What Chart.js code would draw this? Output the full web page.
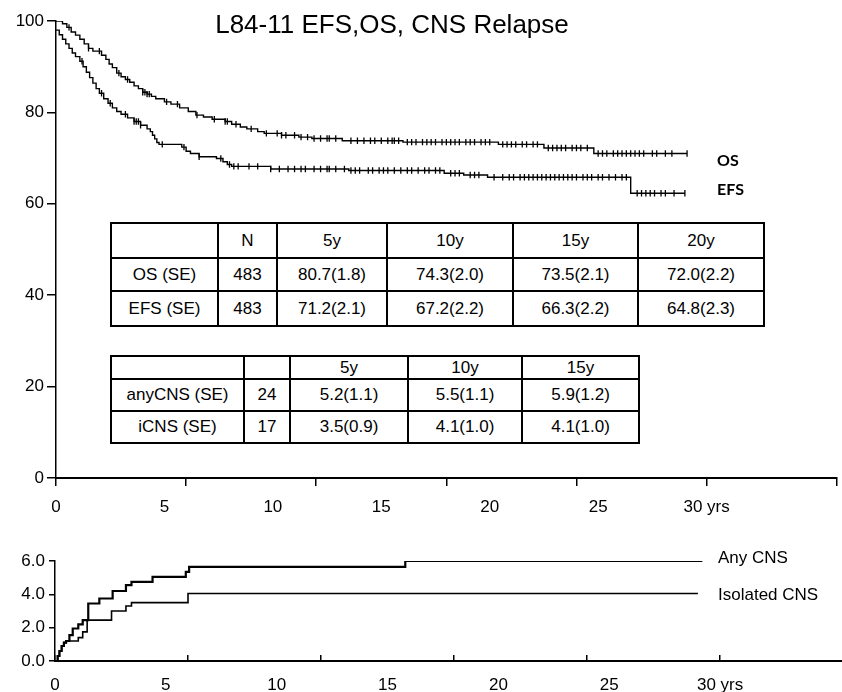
<!DOCTYPE html>
<html>
<head>
<meta charset="utf-8">
<script src="https://cdn.jsdelivr.net/npm/chart.js@4.4.1/dist/chart.umd.min.js"></script>
<style>
  body { margin: 0; background: #fff; }
  #wrap { position: relative; width: 842px; height: 692px; overflow: hidden;
          font-family: "Liberation Sans", Arial, sans-serif; color: #000; }
  canvas { position: absolute; left: 0; }
  #topChart { top: 0; }
  #bottomChart { top: 545px; }
  .title { position: absolute; left: 0; width: 784px; top: 11px; text-align: center;
           font-size: 26px; line-height: 26px; }
  .curveLabel { position: absolute; left: 717px; font-family: Lato, "Open Sans", sans-serif;
                font-size: 16px; line-height: 16px; font-weight: 700; }
  .cnsLabel { position: absolute; left: 718px; font-size: 17px; line-height: 17px; }
  table { position: absolute; border-collapse: collapse; table-layout: fixed;
          background: #fff; font-size: 17px; }
  td { border: 2px solid #000; text-align: center; padding: 0; white-space: nowrap; }
</style>
</head>
<body>
<div id="wrap">
  <canvas id="topChart" width="842" height="520"></canvas>
  <canvas id="bottomChart" width="842" height="147"></canvas>
  <div class="title">L84-11 EFS,OS, CNS Relapse</div>
  <div class="curveLabel" style="top:152px">OS</div>
  <div class="curveLabel" style="top:181px">EFS</div>
  <div class="cnsLabel" style="top:549px">Any CNS</div>
  <div class="cnsLabel" style="top:586px">Isolated CNS</div>
  <table id="survTable" style="left:110px; top:222px; width:653px"></table>
  <table id="cnsTable" style="left:110px; top:355px; width:528px"></table>
</div>
<script>
// Kaplan-Meier steps: [years, percent after the step]
const osSteps = [
  [0,100],[0.3,99.4],[0.5,98.6],[0.7,97.6],[0.9,96.9],[1.1,96.0],[1.3,95.0],[1.5,94.0],
  [1.7,93.4],[2.1,92.5],[2.3,91.6],[2.45,90.6],[2.6,89.8],[2.8,88.6],[3.0,87.8],[3.2,87.2],
  [3.4,86.6],[3.6,85.8],[3.8,85.2],[4.0,84.4],[4.2,84.0],[4.4,83.5],[4.6,83.0],[5.0,82.3],
  [5.3,81.8],[5.7,81.0],[6.1,80.2],[6.45,79.4],[6.8,79.0],[7.2,78.5],[7.8,78.0],[8.1,77.4],
  [8.5,76.8],[8.8,76.4],[9.3,75.8],[9.6,75.4],[10.4,75.0],[11.2,74.6],[11.8,74.3],[13.2,73.8],
  [16.0,73.5],[20.4,73.0],[22.5,72.2],[24.8,71.0],[29.1,71.0]
];
const efsSteps = [
  [0,98.0],[0.15,97.0],[0.3,96.0],[0.45,95.0],[0.6,94.0],[0.75,93.0],[0.9,92.2],[1.1,91.2],
  [1.25,90.0],[1.4,88.8],[1.55,87.6],[1.7,86.4],[1.85,85.2],[2.0,84.2],[2.2,83.0],[2.4,82.0],
  [2.6,81.0],[2.8,80.2],[3.0,79.6],[3.3,78.8],[3.6,78.0],[3.9,77.2],[4.2,76.4],[4.35,75.8],
  [4.45,75.0],[4.55,74.2],[4.65,73.4],[4.75,73.0],[5.8,72.4],[6.0,71.5],[6.2,71.0],[6.6,70.3],
  [7.4,69.9],[7.7,69.2],[7.9,68.6],[8.1,68.2],[9.9,67.6],[13.5,67.3],[17.9,66.7],[18.8,66.3],
  [19.9,65.8],[26.5,62.3],[29.0,62.3]
];
// censored observations (years), the small vertical ticks on the curves
const osCensor = [0.6,1.5,2.0,2.9,3.3,4.0,4.1,4.2,4.3,5.1,5.6,6.5,7.3,7.8,7.9,8.3,9.0,9.7,10.2,10.4,
  10.6,11.0,11.3,11.6,11.9,12.2,12.5,12.6,12.9,13.6,13.9,14.2,14.5,14.7,15.0,15.3,15.5,15.6,15.8,
  16.2,16.4,16.6,16.9,17.1,17.3,17.5,17.8,18.0,18.2,18.4,18.6,18.9,19.1,19.3,19.6,19.8,20.0,20.6,
  20.8,21.0,21.2,21.5,21.7,22.0,22.2,22.7,22.9,23.1,23.3,23.5,23.8,24.0,24.2,24.5,25.0,25.2,25.4,
  25.7,25.9,26.1,26.3,26.5,26.7,26.9,27.1,27.5,27.7,28.1,28.4,29.1];
const efsCensor = [1.2,2.1,2.5,3.2,3.6,3.7,3.8,3.9,4.9,5.9,6.6,7.6,8.0,8.2,8.4,8.9,9.3,9.9,10.3,10.7,
  11.0,11.3,11.5,11.9,12.2,12.5,12.6,12.9,13.3,13.6,13.8,14.0,14.4,14.6,14.9,15.1,15.3,15.6,15.9,
  16.2,16.4,16.7,17.0,17.2,17.5,17.7,18.2,18.4,18.6,19.1,19.3,19.5,20.2,20.6,20.9,21.1,21.4,21.6,
  21.8,22.0,22.2,22.4,22.6,22.8,23.0,23.2,23.4,23.6,23.8,24.0,24.3,24.5,24.7,25.0,25.2,25.5,25.8,
  26.1,26.3,26.8,27.0,27.2,27.4,27.6,27.9,28.1,28.5,29.0];

// cumulative incidence of CNS relapse, percent
const anyCnsSteps = [
  [0,0],[0.12,0.3],[0.2,0.6],[0.3,0.9],[0.4,1.1],[0.5,1.2],[0.65,1.55],[0.8,1.95],[1.05,2.2],
  [1.25,2.45],[1.5,3.45],[2.0,3.75],[2.6,4.2],[3.2,4.55],[3.45,4.75],[4.4,5.05],[5.9,5.35],
  [6.05,5.65],[15.8,6.0],[29.2,6.0]
];
const isoCnsSteps = [
  [0,0],[0.12,0.3],[0.2,0.6],[0.3,0.9],[0.4,1.1],[0.5,1.2],[1.05,1.4],[1.25,1.75],[1.45,2.45],
  [2.55,3.0],[3.2,3.3],[3.45,3.5],[6.0,4.05],[29.0,4.05]
];

const xTickMarks = [0, 6, 12, 18, 24, 30, 36];
const xLabelTicks = [0, 5, 10, 15, 20, 25, 30];
const survTicks = [0, 20, 40, 60, 80, 100];
const cnsTicks = [0, 2, 4, 6];

const survHeader = ['', 'N', '5y', '10y', '15y', '20y'];
const survRows = [
  ['OS (SE)', '483', '80.7(1.8)', '74.3(2.0)', '73.5(2.1)', '72.0(2.2)'],
  ['EFS (SE)', '483', '71.2(2.1)', '67.2(2.2)', '66.3(2.2)', '64.8(2.3)']
];
const cnsHeader = ['', '', '5y', '10y', '15y'];
const cnsRows = [
  ['anyCNS (SE)', '24', '5.2(1.1)', '5.5(1.1)', '5.9(1.2)'],
  ['iCNS (SE)', '17', '3.5(0.9)', '4.1(1.0)', '4.1(1.0)']
];

function buildTable(id, widths, heights, header, rows) {
  const t = document.getElementById(id);
  const cg = document.createElement('colgroup');
  widths.forEach(w => { const c = document.createElement('col'); c.style.width = w + 'px'; cg.appendChild(c); });
  t.appendChild(cg);
  [header, ...rows].forEach((r, i) => {
    const tr = t.insertRow();
    tr.style.height = heights[i] + 'px';
    r.forEach(v => { const td = tr.insertCell(); td.textContent = v; });
  });
}
buildTable('survTable', [107, 59, 110, 126, 125, 126], [35, 33, 35], survHeader, survRows);
buildTable('cnsTable', [133, 46, 118, 114, 117], [23, 32, 32], cnsHeader, cnsRows);

function stepValue(steps, t) {
  let v = steps[0][1];
  for (const [x, y] of steps) { if (x <= t) v = y; else break; }
  return v;
}
const toXY = steps => steps.map(([x, y]) => ({ x, y }));

Chart.defaults.font.family = '"Liberation Sans", Arial, sans-serif';
Chart.defaults.color = '#000';

function xAxes(max, tickLen, labelPad, labelSize, labelHeight, tickAxisHeight) {
  return {
    x: {
      type: 'linear', min: 0, max: max, weight: 0,
      afterBuildTicks: axis => { axis.ticks = xTickMarks.filter(v => v <= max).map(v => ({ value: v })); },
      afterFit: axis => { axis.height = tickAxisHeight; },
      ticks: { display: false },
      grid: { drawOnChartArea: false, drawTicks: true, tickLength: tickLen, color: '#000', lineWidth: 1.5 },
      border: { display: true, color: '#000', width: 2 }
    },
    xLabels: {
      type: 'linear', position: 'bottom', min: 0, max: max, weight: 1,
      afterBuildTicks: axis => { axis.ticks = xLabelTicks.map(v => ({ value: v })); },
      afterFit: axis => { axis.height = labelHeight; },
      ticks: { padding: labelPad, font: { size: labelSize }, maxRotation: 0,
               callback: v => v === 30 ? '30 yrs' : String(v) },
      grid: { display: false },
      border: { display: false }
    }
  };
}

const lineStyle = { stepped: true, pointRadius: 0, borderColor: '#000', fill: false };
const censorStyle = { showLine: false, pointStyle: 'line', pointRotation: 90, pointRadius: 3.2,
                      pointBorderWidth: 1.3, pointBorderColor: '#000', borderColor: '#000' };

new Chart(document.getElementById('topChart'), {
  type: 'line',
  data: {
    datasets: [
      { label: 'OS', data: toXY(osSteps), borderWidth: 1.4, ...lineStyle },
      { label: 'EFS', data: toXY(efsSteps), borderWidth: 1.4, ...lineStyle },
      { label: 'OS censored', data: osCensor.map(t => ({ x: t, y: stepValue(osSteps, t) })), ...censorStyle },
      { label: 'EFS censored', data: efsCensor.map(t => ({ x: t, y: stepValue(efsSteps, t) })), ...censorStyle }
    ]
  },
  options: {
    responsive: false, animation: false, devicePixelRatio: 1,
    layout: { padding: { top: 21, left: 0, right: 0, bottom: 0 } },
    plugins: { legend: { display: false }, tooltip: { enabled: false } },
    scales: {
      ...xAxes(36, 8, 3, 17, 34, 8),
      y: {
        min: 0, max: 100,
        afterBuildTicks: axis => { axis.ticks = survTicks.map(v => ({ value: v })); },
        afterFit: axis => { axis.width = 56; },
        ticks: { padding: 3, font: { size: 17 } },
        grid: { drawOnChartArea: false, drawTicks: true, tickLength: 9, color: '#000', lineWidth: 1.5 },
        border: { display: true, color: '#000', width: 1.5 }
      }
    }
  }
});

new Chart(document.getElementById('bottomChart'), {
  type: 'line',
  data: {
    datasets: [
      { label: 'Any CNS', data: toXY(anyCnsSteps), borderWidth: 2.2, ...lineStyle },
      { label: 'Isolated CNS', data: toXY(isoCnsSteps), borderWidth: 1.6, ...lineStyle }
    ]
  },
  options: {
    responsive: false, animation: false, devicePixelRatio: 1,
    layout: { padding: { top: 16, left: 0, right: 0, bottom: 0 } },
    plugins: { legend: { display: false }, tooltip: { enabled: false } },
    scales: {
      ...xAxes(35.5, -6, 6, 17, 31, 0),
      y: {
        min: 0, max: 6,
        afterBuildTicks: axis => { axis.ticks = cnsTicks.map(v => ({ value: v })); },
        afterFit: axis => { axis.width = 55; },
        ticks: { padding: 4, font: { size: 17 }, callback: v => v.toFixed(1) },
        grid: { drawOnChartArea: false, drawTicks: true, tickLength: 6, color: '#000', lineWidth: 1.5 },
        border: { display: true, color: '#000', width: 1.5 }
      }
    }
  }
});
</script>
</body>
</html>
